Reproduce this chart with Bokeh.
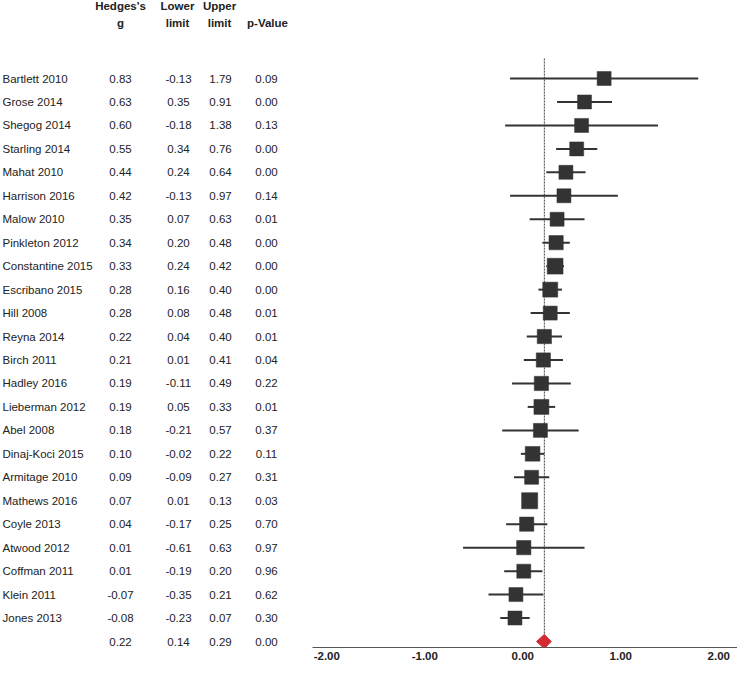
from bokeh.plotting import figure
from bokeh.models import Range1d, FixedTicker, NumeralTickFormatter, ColumnDataSource
from bokeh.layouts import row
from bokeh.embed import file_html
from bokeh.resources import INLINE
from bokeh.core.properties import value

# ---------------- data ----------------
studies = ["Bartlett 2010", "Grose 2014", "Shegog 2014", "Starling 2014", "Mahat 2010",
           "Harrison 2016", "Malow 2010", "Pinkleton 2012", "Constantine 2015", "Escribano 2015",
           "Hill 2008", "Reyna 2014", "Birch 2011", "Hadley 2016", "Lieberman 2012",
           "Abel 2008", "Dinaj-Koci 2015", "Armitage 2010", "Mathews 2016", "Coyle 2013",
           "Atwood 2012", "Coffman 2011", "Klein 2011", "Jones 2013"]
hedges_g = [0.83, 0.63, 0.60, 0.55, 0.44, 0.42, 0.35, 0.34, 0.33, 0.28, 0.28, 0.22, 0.21,
            0.19, 0.19, 0.18, 0.10, 0.09, 0.07, 0.04, 0.01, 0.01, -0.07, -0.08]
lower_limit = [-0.13, 0.35, -0.18, 0.34, 0.24, -0.13, 0.07, 0.20, 0.24, 0.16, 0.08, 0.04, 0.01,
               -0.11, 0.05, -0.21, -0.02, -0.09, 0.01, -0.17, -0.61, -0.19, -0.35, -0.23]
upper_limit = [1.79, 0.91, 1.38, 0.76, 0.64, 0.97, 0.63, 0.48, 0.42, 0.40, 0.48, 0.40, 0.41,
               0.49, 0.33, 0.57, 0.22, 0.27, 0.13, 0.25, 0.63, 0.20, 0.21, 0.07]
p_value = [0.09, 0.00, 0.13, 0.00, 0.00, 0.14, 0.01, 0.00, 0.00, 0.00, 0.01, 0.01, 0.04,
           0.22, 0.01, 0.37, 0.11, 0.31, 0.03, 0.70, 0.97, 0.96, 0.62, 0.30]
rel_weight = [1.0, 1.0, 1.0, 1.0, 1.0, 1.0, 1.0, 1.02, 1.13, 1.07, 1.0, 1.02, 1.02,
              1.02, 1.07, 1.0, 1.05, 1.0, 1.15, 1.02, 1.02, 1.0, 1.0, 1.0]
summary_g = 0.22
summary_lower = 0.14
summary_upper = 0.29
summary_p = 0.00
x_ticks = [-2, -1, 0, 1, 2]

headers_line1 = ["Hedges's", "Lower", "Upper"]
headers_line2 = ["g", "limit", "limit", "p-Value"]

# ---------------- layout constants ----------------
FONT = "Liberation Sans"
FS = "11.5px"
TXT = "#222222"
DARK = "#333333"
n = len(studies)
rows_idx = list(range(n))
sum_row = n
ROW_PX = 563 / 24.0
FRAME_H = 647
Y_TOP = -78 / ROW_PX
Y_BOT = 24 + 6 / ROW_PX

def fmt(v):
    return f"{v:.2f}"

# ---------------- left (table) figure ----------------
left = figure(frame_width=312, frame_height=FRAME_H, output_backend="svg", toolbar_location=None,
              x_range=Range1d(0, 312), y_range=Range1d(Y_BOT, Y_TOP),
              x_axis_location=None, y_axis_location=None,
              min_border_left=0, min_border_right=0, min_border_top=0, min_border_bottom=18)
left.grid.visible = False
left.outline_line_color = None
left.background_fill_color = "white"
left.border_fill_color = "white"

col_x = {"name": 2, "g": 120, "lo": 178, "hi": 220, "p": 266}

tsrc = ColumnDataSource(dict(
    y=rows_idx + [sum_row],
    name=studies + [""],
    g=[fmt(v) for v in hedges_g] + [fmt(summary_g)],
    lo=[fmt(v) for v in lower_limit] + [fmt(summary_lower)],
    hi=[fmt(v) for v in upper_limit] + [fmt(summary_upper)],
    p=[fmt(v) for v in p_value] + [fmt(summary_p)],
))
common = dict(source=tsrc, text_font=value(FONT), text_font_size=FS, text_color=TXT,
              text_baseline="middle")
left.text(x=col_x["name"], y="y", text="name", text_align="left", **common)
left.text(x=col_x["g"], y="y", text="g", text_align="center", **common)
left.text(x=col_x["lo"], y="y", text="lo", text_align="center", **common)
left.text(x=col_x["hi"], y="y", text="hi", text_align="center", **common)
left.text(x=col_x["p"], y="y", text="p", text_align="center", **common)

H1 = Y_TOP + 5.5 / ROW_PX
H2 = Y_TOP + 22 / ROW_PX
hsrc1 = ColumnDataSource(dict(x=[120, 177, 219], y=[H1] * 3, t=headers_line1))
hsrc2 = ColumnDataSource(dict(x=[120, 177, 219, 267], y=[H2] * 4, t=headers_line2))
for s in (hsrc1, hsrc2):
    left.text(x="x", y="y", text="t", source=s, text_font=value(FONT), text_font_size=FS,
              text_font_style="bold", text_color=TXT, text_align="center", text_baseline="middle")

# ---------------- right (forest) figure ----------------
right = figure(frame_width=425, frame_height=FRAME_H, output_backend="svg", toolbar_location=None,
               x_range=Range1d(-2.146, 2.191), y_range=Range1d(Y_BOT, Y_TOP),
               y_axis_location=None,
               min_border_left=0, min_border_right=0, min_border_top=0, min_border_bottom=18)
right.grid.visible = False
right.outline_line_color = None
right.background_fill_color = "white"
right.border_fill_color = "white"

ax = right.xaxis[0]
ax.ticker = FixedTicker(ticks=x_ticks)
ax.formatter = NumeralTickFormatter(format="0.00")
ax.axis_line_color = "#555555"
ax.axis_line_width = 1
ax.major_tick_line_color = None
ax.minor_tick_line_color = None
ax.major_tick_in = 0
ax.major_tick_out = 0
ax.major_label_standoff = 4
ax.major_label_text_font = FONT
ax.major_label_text_font_size = FS
ax.major_label_text_font_style = "bold"
ax.major_label_text_color = TXT

# reference line at summary effect
right.segment(x0=[summary_g], y0=[-0.85], x1=[summary_g], y1=[Y_BOT],
              line_color="#444444", line_width=1, line_dash="2 1")

fsrc = ColumnDataSource(dict(y=rows_idx, g=hedges_g, lo=lower_limit, hi=upper_limit,
                             size=[14 * w for w in rel_weight]))
right.segment(x0="lo", y0="y", x1="hi", y1="y", source=fsrc, line_color=DARK, line_width=2)
right.scatter(x="g", y="y", size="size", marker="square", source=fsrc,
              fill_color=DARK, line_color=DARK, line_width=0.5)

# summary diamond
right.patch(x=[summary_lower, summary_g, summary_upper, summary_g],
            y=[sum_row, sum_row - 0.3, sum_row, sum_row + 0.3],
            fill_color="#d42a33", line_color="#d42a33", line_width=1)

layout = row(left, right, spacing=0)
open("out.html", "w").write(file_html(layout, INLINE))
